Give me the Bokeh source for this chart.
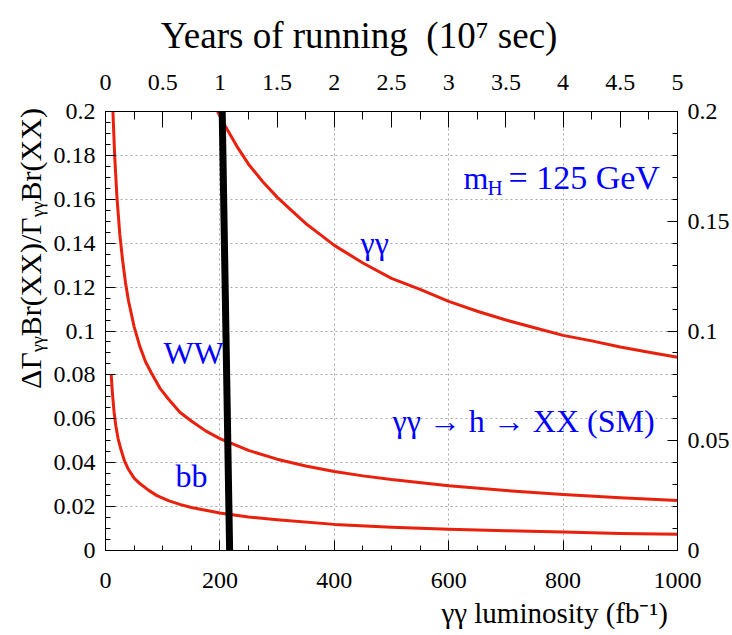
from bokeh.plotting import figure
from bokeh.models import (Range1d, LinearAxis, FixedTicker, Label)
from bokeh.embed import file_html
from bokeh.resources import INLINE

# ---------------- data ----------------
gg_lum = [196, 210, 230, 250, 275, 300, 325, 350, 375, 400, 450, 500, 550, 600,
          650, 700, 750, 800, 850, 900, 950, 1000]
gg_val = [0.200, 0.193, 0.184, 0.176, 0.168, 0.161, 0.155, 0.149, 0.144, 0.139, 0.131,
          0.124, 0.119, 0.1135, 0.109, 0.105, 0.1015, 0.098, 0.0955, 0.0927, 0.0903, 0.088]

ww_lum = [13, 16, 20, 25, 30, 35, 40, 50, 60, 70, 80, 95, 110, 130, 150, 175, 200,
          250, 300, 350, 400, 450, 500, 600, 700, 800, 900, 1000]
ww_val = [0.200, 0.180, 0.161, 0.144, 0.132, 0.122, 0.114, 0.102, 0.093, 0.086, 0.081,
          0.074, 0.069, 0.063, 0.059, 0.0545, 0.051, 0.0456, 0.0416, 0.0385, 0.036,
          0.034, 0.0323, 0.0295, 0.0273, 0.0255, 0.024, 0.0228]

bb_lum = [10, 12, 15, 18, 22, 27, 33, 40, 50, 60, 75, 90, 110, 130, 150, 175, 200,
          250, 300, 400, 500, 600, 700, 800, 900, 1000]
bb_val = [0.080, 0.072, 0.063, 0.057, 0.051, 0.046, 0.041, 0.037, 0.033, 0.0305,
          0.0275, 0.025, 0.0227, 0.021, 0.0196, 0.0183, 0.0171, 0.0153, 0.014, 0.0119,
          0.0106, 0.0097, 0.009, 0.0084, 0.0078, 0.0074]

cut_lum = [204, 217]
cut_val = [0.2, 0.0]

lum_ticks = [0, 200, 400, 600, 800, 1000]
lum_tick_labels = ["0", "200", "400", "600", "800", "1000"]
year_ticks = [0, 0.5, 1, 1.5, 2, 2.5, 3, 3.5, 4, 4.5, 5]
year_tick_labels = ["0", "0.5", "1", "1.5", "2", "2.5", "3", "3.5", "4", "4.5", "5"]
left_ticks = [0, 0.02, 0.04, 0.06, 0.08, 0.1, 0.12, 0.14, 0.16, 0.18, 0.2]
left_tick_labels = ["0", "0.02", "0.04", "0.06", "0.08", "0.1", "0.12", "0.14", "0.16", "0.18", "0.2"]
right_ticks = [0, 0.05, 0.1, 0.15, 0.2]
right_tick_labels = ["0", "0.05", "0.1", "0.15", "0.2"]

NBSP = "\u00a0"
# axis titles; the non-breaking spaces only push the centred titles toward the axis end
top_title = "Years of running " + NBSP + "(10\u2077 sec)" + NBSP * 7
bottom_title = NBSP * 45 + "\u03b3\u03b3 luminosity (fb\u207b\u00b9)"
left_title = NBSP * 22 + "\u0394\u0393\u1d67\u1d67Br(XX)/\u0393\u1d67\u1d67Br(XX)"

# ---------------- layout ----------------
W, H = 732, 635
FL, FR, FT, FB = 105, 677, 111, 550  # frame edges in pixels
FONT = "Liberation Serif"
RED = "#e8200c"
BLUE = "#0000ff"

p = figure(width=W, height=H, output_backend="svg", toolbar_location=None,
           x_range=Range1d(0, 1000), y_range=Range1d(0, 0.2),
           min_border_left=FL, min_border_right=W - FR,
           min_border_top=FT, min_border_bottom=H - FB,
           background_fill_color="white", border_fill_color="white")
p.outline_line_color = "black"
p.outline_line_width = 1

p.extra_x_ranges = {"years": Range1d(0, 5)}
p.extra_y_ranges = {"right": Range1d(0, 0.2)}


def style_axis(ax, ticks, labels, minor, tin, min_in, standoff):
    ax.ticker = FixedTicker(ticks=ticks, minor_ticks=minor)
    ax.major_label_overrides = {t: l for t, l in zip(ticks, labels)}
    ax.major_tick_in = tin
    ax.major_tick_out = 0
    ax.minor_tick_in = min_in
    ax.minor_tick_out = 0
    ax.major_label_standoff = standoff
    ax.major_label_text_font = FONT
    ax.major_label_text_font_size = "24px"
    ax.major_label_text_color = "black"
    ax.axis_line_color = "black"
    ax.major_tick_line_color = "black"
    ax.minor_tick_line_color = "black"
    ax.axis_label_text_font = FONT
    ax.axis_label_text_font_style = "normal"
    ax.axis_label_text_color = "black"


bx = p.xaxis[0]
style_axis(bx, lum_ticks, lum_tick_labels, [i * 50 for i in range(21)], 10, 5, 22)
bx.axis_label = bottom_title
bx.axis_label_text_font_size = "29px"
bx.axis_label_standoff = 6

ly = p.yaxis[0]
style_axis(ly, left_ticks, left_tick_labels, [round(i * 0.005, 3) for i in range(41)], 10, 5, 10)
ly.axis_label = left_title
ly.axis_label_text_font_size = "30px"
ly.axis_label_standoff = 4

tx = LinearAxis(x_range_name="years")
style_axis(tx, year_ticks, year_tick_labels, [i * 0.25 for i in range(21)], 16, 8, 22)
tx.axis_label = top_title
tx.axis_label_text_font_size = "37px"
tx.axis_label_standoff = 16
p.add_layout(tx, "above")

ry = LinearAxis(y_range_name="right")
style_axis(ry, right_ticks, right_tick_labels, [round(i * 0.01, 3) for i in range(21)], 10, 5, 10)
p.add_layout(ry, "right")

p.xgrid.ticker = FixedTicker(ticks=lum_ticks)
p.ygrid.ticker = FixedTicker(ticks=left_ticks)
for g in (p.xgrid, p.ygrid):
    g.grid_line_color = "#a8a8a8"
    g.grid_line_dash = "2 3"
    g.grid_line_width = 1

# curves
p.line(gg_lum, gg_val, line_color=RED, line_width=3, line_join="round")
p.line(ww_lum, ww_val, line_color=RED, line_width=3, line_join="round")
p.line(bb_lum, bb_val, line_color=RED, line_width=3, line_join="round")
p.line(cut_lum, cut_val, line_color="black", line_width=7, line_cap="butt")


# ---------------- in-plot text (positions in canvas pixels, from top-left) ----------------
def lab(text, px, py, size, color=BLUE):
    p.add_layout(Label(x=px, y=py, text=text, x_units="canvas", y_units="canvas",
                       text_font=FONT, text_font_size=f"{size}px", text_color=color,
                       text_align="left", text_baseline="alphabetic"))


lab("\u03b3\u03b3", 360, 242, 32)
lab("WW", 163, 352, 32)
lab("bb", 175, 475, 32)
lab("m", 463, 177, 32)
lab("H", 487, 187, 21)
lab("= 125 GeV", 508, 177, 34)
lab("\u03b3\u03b3 \u2192 h \u2192 XX (SM)", 392, 420, 32)

open("out.html", "w").write(file_html(p, INLINE))
